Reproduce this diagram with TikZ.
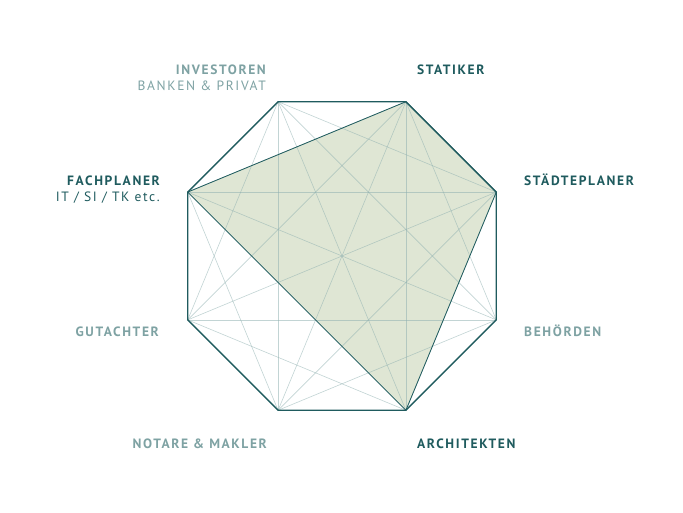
\documentclass[tikz,border=0pt]{standalone}
\usepackage{fontspec}
\setmainfont{PT Sans}
\newfontfamily\lblfont{PT Sans}[LetterSpace=12]
\definecolor{petrol}{HTML}{1F5B5E}
\definecolor{pale}{HTML}{7EA2A3}
\definecolor{sage}{HTML}{DFE6D4}
\definecolor{web}{HTML}{8FB0B0}
\tikzset{rim/.style={draw=petrol,line width=1.4pt,line join=miter},
         diag/.style={draw=web,line width=0.6pt,opacity=0.55},
         area/.style={fill=sage},
         edge/.style={draw=petrol,line width=0.8pt,line join=miter},
         party/.style={inner sep=0pt,font=\lblfont\fontsize{13.5}{15}\selectfont\bfseries},
         sub/.style={inner sep=0pt,font=\lblfont\fontsize{13.5}{15}\selectfont},
        }

\begin{document}
\begin{tikzpicture}[x=1pt,y=1pt]
        \useasboundingbox (0,0) rectangle (683,513);
        \coordinate (c) at (342,257);
        % v1 Fachplaner, v2 Investoren, ... v8 Gutachter
        \foreach \i in {1,...,8}
            \coordinate (v\i) at ([shift={(202.5-45*\i:167)}]c);

        \fill[area] (v1) -- (v3) -- (v4) -- (v6) -- cycle;
        \foreach \i in {1,...,6}{
            \pgfmathtruncatemacro\s{\i+2}
            \foreach \j in {\s,...,8}{
                \ifnum\numexpr10*\i+\j\relax=18 \else \draw[diag] (v\i) -- (v\j); \fi
            }
        }
        \draw[edge] (v1) -- (v3) -- (v4) -- (v6) -- cycle;
        \draw[rim] (v1) -- (v2) -- (v3) -- (v4) -- (v5) -- (v6) -- (v7) -- (v8) -- cycle;

        \node[party,text=pale,anchor=base east](investoren)at(266,438){INVESTOREN};
        \node[sub,text=pale,anchor=base east](banken)at(266,422){BANKEN \& PRIVAT};
        \node[party,text=petrol,anchor=base west](statiker)at(417,438){STATIKER};
        \node[party,text=petrol,anchor=base west](staedteplaner)at(524,327){STÄDTEPLANER};
        \node[party,text=petrol,anchor=base east](fachplaner)at(160,327){FACHPLANER};
        \node[sub,text=petrol,anchor=base east](it)at(160,311){IT / SI / TK etc.};
        \node[party,text=pale,anchor=base east](gutachter)at(159,176){GUTACHTER};
        \node[party,text=pale,anchor=base west](behoerden)at(524,176){BEHÖRDEN};
        \node[party,text=pale,anchor=base east](notare)at(267,64){NOTARE \& MAKLER};
        \node[party,text=petrol,anchor=base west](architekten)at(417,64){ARCHITEKTEN};
    \end{tikzpicture}
\end{document}
